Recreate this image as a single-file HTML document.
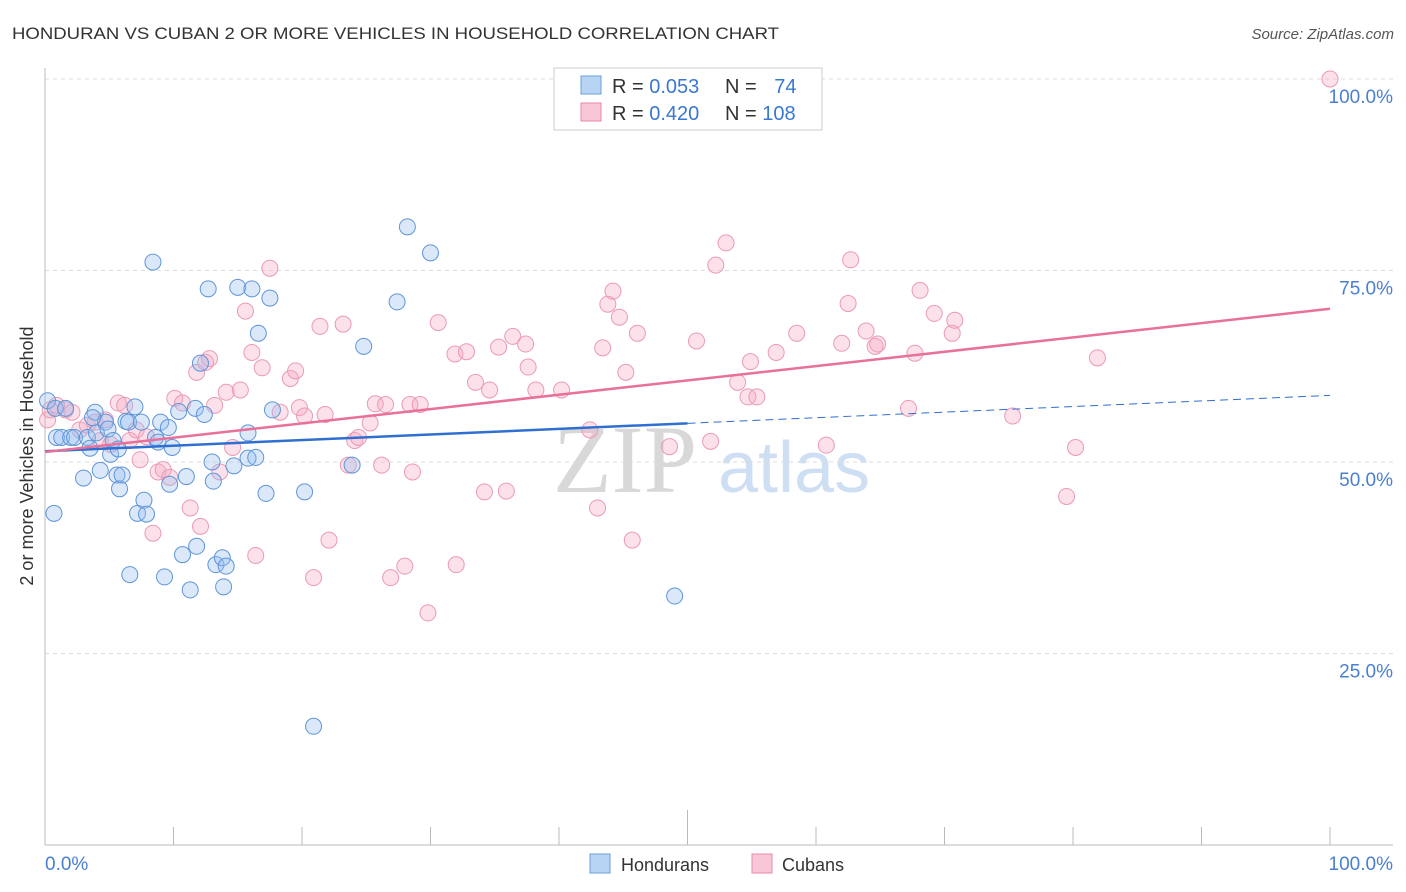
<!DOCTYPE html>
<html><head><meta charset="utf-8">
<style>
body{margin:0;background:#fff;font-family:"Liberation Sans",sans-serif;}
#wrap{position:relative;width:1406px;height:892px;overflow:hidden;}
</style></head>
<body>
<div id="wrap">
<svg id="chart" width="1406" height="892" xmlns="http://www.w3.org/2000/svg">
<text x="12" y="39" font-size="17" fill="#333" textLength="767" lengthAdjust="spacingAndGlyphs">HONDURAN VS CUBAN 2 OR MORE VEHICLES IN HOUSEHOLD CORRELATION CHART</text>
<text x="1394" y="39" font-size="15" fill="#555" font-style="italic" text-anchor="end">Source: ZipAtlas.com</text>
<text x="0" y="0" transform="translate(33,456) rotate(-90)" font-size="18" fill="#333" text-anchor="middle">2 or more Vehicles in Household</text>
<g>
<text x="553" y="492" font-size="96" fill="#d8d8d8" font-family="Liberation Serif,serif">ZIP</text>
<text x="718" y="492" font-size="72" fill="#cfdff3">atlas</text>
</g>
<g id="grid"></g>
<g id="axes"></g>
<g id="pts"></g>
<g id="trend"></g>
<g>
<rect x="554" y="68" width="268" height="62" fill="#fff" stroke="#ccc"/>
<rect x="581" y="76" width="20" height="18" fill="#b8d4f5" stroke="#6a9fd8"/>
<rect x="581" y="103" width="20" height="18" fill="#f8c6d6" stroke="#e88aaa"/>
<text x="612" y="93" font-size="20" fill="#333">R = <tspan fill="#3a78d0">0.053</tspan></text>
<text x="725" y="93" font-size="20" fill="#333">N = <tspan fill="#3a78d0" dx="12">74</tspan></text>
<text x="612" y="120" font-size="20" fill="#333">R = <tspan fill="#3a78d0">0.420</tspan></text>
<text x="725" y="120" font-size="20" fill="#333">N = <tspan fill="#3a78d0">108</tspan></text>
</g>
<g>
<rect x="590" y="854" width="20" height="19" fill="#b8d4f5" stroke="#6a9fd8"/>
<text x="621" y="871" font-size="18" fill="#333">Hondurans</text>
<rect x="752" y="854" width="20" height="19" fill="#f8c6d6" stroke="#e88aaa"/>
<text x="782" y="871" font-size="18" fill="#333">Cubans</text>
</g>
</svg>
</div>
<script>
const yTicks=[25,50,75,100];
const yTickLabels=["25.0%","50.0%","75.0%","100.0%"];
const xTickLabels=["0.0%","100.0%"];
const hondX=[0.2,0.8,0.7,0.9,1.3,1.6,2,2.3,3,3.3,3.5,3.9,4,4.3,4.7,4.9,5.1,5.3,5.6,5.8,6,6.3,6.5,6.6,7,7.2,7.7,7.9,8.4,8.6,8.8,9,9.3,9.6,9.7,9.9,10.4,10.7,11,11.3,11.7,11.8,12.1,12.4,12.7,13,13.1,13.3,13.8,13.9,14.1,14.7,15,15.8,15.8,16.1,16.4,16.6,17.2,17.5,17.7,20.2,20.9,23.9,24.8,27.4,28.2,30,49,7.5,5.7,3.7];
const hondY=[58,57,43.3,53.2,53.2,57,53.2,53.2,47.9,53.2,51.8,56.5,53.8,48.9,55.2,54.3,51,52.8,48.3,46.5,48.3,55.3,55.2,35.3,57.2,43.3,45,43.2,76.1,53.2,52.6,55.2,35,54.5,47.1,51.9,56.6,37.9,48.1,33.3,57,39,62.9,56.2,72.6,50,47.5,36.6,37.5,33.7,36.4,49.5,72.8,53.8,50.5,72.6,50.6,66.8,45.9,71.4,56.8,46.1,15.5,49.6,65.1,70.9,80.7,77.3,32.5,55.2,51.7,55.8];
const cubX=[0.2,0.4,0.9,1.6,2.1,2.7,3.3,3.9,4.3,4.7,5.1,5.7,6.2,6.6,7.1,7.4,7.9,8.4,8.8,9.2,9.7,10.1,10.7,11.3,11.8,12.1,12.5,12.8,13.2,13.6,14.1,14.6,15.2,15.6,16.1,16.4,16.9,17.5,18.3,19.1,19.5,19.8,20.2,20.9,21.4,21.8,22.1,23.2,23.6,24.1,24.4,25.3,25.7,26.2,26.5,26.9,28,28.4,28.6,29.2,29.8,30.6,31.9,32,32.8,33.5,34.2,34.6,35.3,35.9,36.4,37.4,37.6,38.2,40.2,42.4,43,43.4,43.8,44.2,44.7,45.2,45.7,46.1,48.6,50.7,51.8,52.2,53,53.9,54.7,54.9,55.4,56.9,58.5,60.8,62,62.5,62.7,63.9,64.6,64.8,67.7,68.1,69.2,70.6,70.8,75.3,79.5,80.2,81.9,100,67.2];
const cubY=[55.5,56.8,57.4,56.8,56.5,54.2,54.8,55.2,52.8,55.5,52.3,57.7,57.4,52.8,54.2,50.3,53.3,40.7,48.7,49,48,58.3,57.7,44,61.7,41.6,63,63.5,57.4,48.7,59.1,51.9,59.4,69.7,64.3,37.8,62.3,75.3,56.5,60.9,61.9,57.1,56,34.9,67.7,56.2,39.8,68,49.6,52.8,53.2,55.1,57.6,49.6,57.5,34.9,36.4,57.5,48.7,57.5,30.3,68.2,64.1,36.6,64.4,60.4,46.1,59.4,65,46.2,66.4,65.4,62.4,59.4,59.4,54.2,44,64.9,70.6,72.3,68.9,61.7,39.8,66.8,52,65.8,52.7,75.7,78.6,60.4,58.5,63.1,58.5,64.3,66.8,52.2,65.5,70.7,76.4,67.1,65.1,65.4,64.2,72.4,69.4,66.8,68.5,56,45.5,51.9,63.6,100,57];
const hondTrend=[51.4,58.7];
const cubTrend=[51.3,70.0];
const NS="http://www.w3.org/2000/svg";
const X0=45,X1=1330,Y0=845,Y100=79;
function sx(v){return X0+(X1-X0)*v/100;}
function sy(v){return Y0-(Y0-Y100)*v/100;}
function mk(tag,attrs,parent){const e=document.createElementNS(NS,tag);for(const k in attrs)e.setAttribute(k,attrs[k]);document.getElementById(parent).appendChild(e);return e;}
yTicks.forEach((t,i)=>{
 const g=mk('line',{x1:X0,x2:1393,y1:sy(t),y2:sy(t),stroke:'#ddd','stroke-dasharray':'4,4'},'grid');
 
 
 const l=mk('text',{x:1393,y:sy(t)+24,'font-size':19,fill:'#4a7fd0','text-anchor':'end'},'grid');
 l.textContent=yTickLabels[i];
 
 
});
const ax=mk('line',{x1:X0,x2:1393,y1:Y0,y2:Y0,stroke:'#bbb'},'axes');


const ay=mk('line',{x1:X0,x2:X0,y1:68,y2:Y0,stroke:'#bbb'},'axes');


for(let i=1;i<=10;i++){
 const t=mk('line',{x1:sx(i*10),x2:sx(i*10),y1:Y0,y2:i==5?810:827,stroke:'#bbb'},'axes');
 
 
}
const xl0=mk('text',{x:45,y:870,'font-size':19,fill:'#4a7fd0'},'axes');
xl0.textContent=xTickLabels[0];


const xl1=mk('text',{x:1393,y:870,'font-size':19,fill:'#4a7fd0','text-anchor':'end'},'axes');
xl1.textContent=xTickLabels[1];


cubX.forEach((x,i)=>{
 const c=mk('circle',{cx:sx(x),cy:sy(cubY[i]),r:8,fill:'rgba(245,170,195,0.35)',stroke:'#ea9ab5','stroke-width':1},'pts');
 
 
});
hondX.forEach((x,i)=>{
 const c=mk('circle',{cx:sx(x),cy:sy(hondY[i]),r:8,fill:'rgba(150,190,240,0.35)',stroke:'#5f95d8','stroke-width':1},'pts');
 
 
});
const hv=x=>hondTrend[0]+(hondTrend[1]-hondTrend[0])*x/100;
const ht=mk('line',{x1:sx(0),y1:sy(hv(0)),x2:sx(50),y2:sy(hv(50)),stroke:'#2f6fd0','stroke-width':2.5},'trend');


const hd=mk('line',{x1:sx(50),y1:sy(hv(50)),x2:sx(100),y2:sy(hv(100)),stroke:'#2f6fd0','stroke-width':1,'stroke-dasharray':'8,5'},'trend');


const ct=mk('line',{x1:sx(0),y1:sy(cubTrend[0]),x2:sx(100),y2:sy(cubTrend[1]),stroke:'#e8709a','stroke-width':2.5},'trend');


</script>
</body></html>
